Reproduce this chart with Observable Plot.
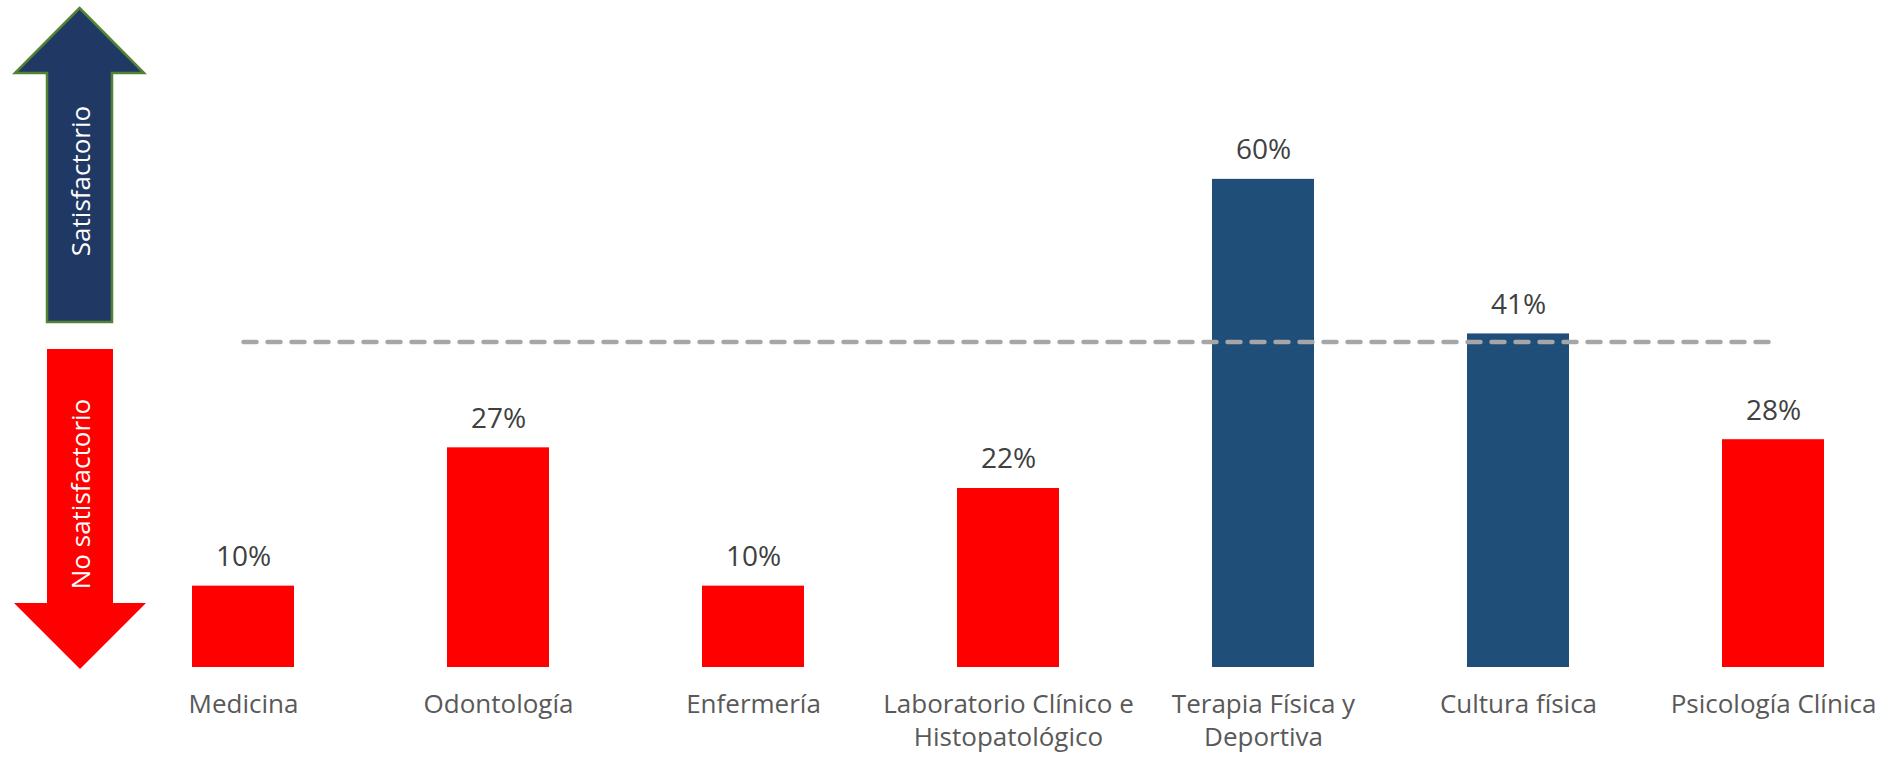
<!DOCTYPE html>
<html><head><meta charset="utf-8">
<script src="https://cdn.jsdelivr.net/npm/d3@7"></script>
<script src="https://cdn.jsdelivr.net/npm/@observablehq/plot@0.6"></script>
<style>
html,body{margin:0;padding:0;background:#fff;}
#chart{width:1895px;height:757px;overflow:hidden;}
</style></head><body><div id="chart"></div>
<script>
const categories = ["Medicina","Odontología","Enfermería","Laboratorio Clínico e\nHistopatológico","Terapia Física y\nDeportiva","Cultura física","Psicología Clínica"];
const values = [0.10,0.27,0.10,0.22,0.60,0.41,0.28];
const threshold = 0.40;
const arrowLabels = ["Satisfactorio","No satisfactorio"];

const data = categories.map((c,i)=>({category:c, value:values[i]}));
const thresholdLine = categories.map(c=>({category:c, value:threshold}));
const FONT = "Open Sans";

const plot = Plot.plot({
  width:1895, height:757,
  marginTop:8, marginBottom:90, marginLeft:113, marginRight:-7,
  x:{domain:categories, paddingInner:0.6, paddingOuter:0.3},
  y:{domain:[0,0.81], axis:null},
  style:{fontFamily:FONT, background:"#fff", overflow:"visible"},
  marks:[
    Plot.barY(data,{x:"category", y:"value", fill:d => d.value >= threshold ? "#1F4E79" : "#FF0000"}),
    Plot.line(thresholdLine,{x:"category", y:"value", stroke:"#A6A6A6", strokeWidth:4.5, strokeDasharray:"13,11", strokeLinecap:"round"}),
    Plot.text(data,{x:"category", y:"value", text:d => d3.format(".0%")(d.value), dy:-29, fontSize:28, fill:"#404040"}),
    Plot.axisX({tickSize:0, tickPadding:22, fontSize:26, color:"#595959", lineHeight:1.27, label:null})
  ]
});
document.getElementById("chart").appendChild(plot);

const svg = d3.select(plot);
const g = svg.append("g").attr("class","arrows");
const up = [[79.5,8],[144,73],[112,73],[112,322],[47,322],[47,73],[15,73]];
const down = [[47,349],[113,349],[113,603],[146,603],[80,669],[14,603],[47,603]];
g.append("path").attr("d", d3.line()(up)+"Z").attr("fill","#203864").attr("stroke","#548235").attr("stroke-width",2.5).attr("stroke-linejoin","miter");
g.append("path").attr("d", d3.line()(down)+"Z").attr("fill","#FF0000");
g.append("text").attr("transform","translate(80,181) rotate(-90)").attr("text-anchor","middle").attr("dominant-baseline","central")
  .attr("fill","#fff").attr("font-family",FONT).attr("font-size",26).text(arrowLabels[0]);
g.append("text").attr("transform","translate(80,494) rotate(-90)").attr("text-anchor","middle").attr("dominant-baseline","central")
  .attr("fill","#fff").attr("font-family",FONT).attr("font-size",26).text(arrowLabels[1]);
</script></body></html>
